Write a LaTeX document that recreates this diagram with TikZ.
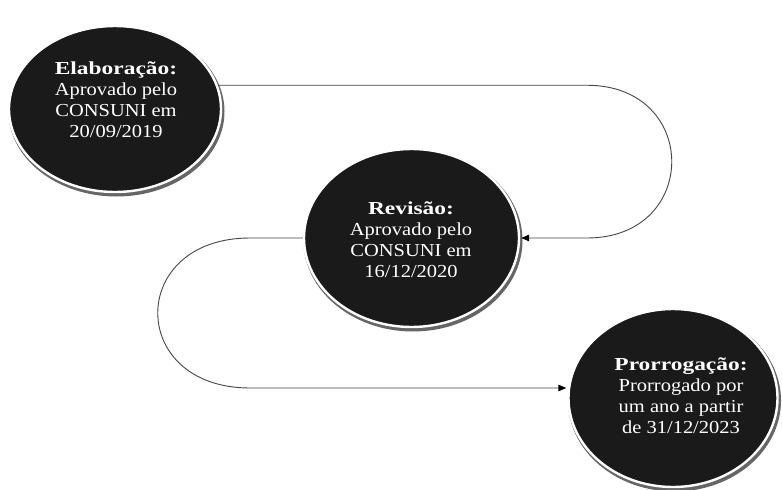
\documentclass[tikz,border=0pt]{standalone}
\usepackage{fontspec}
\usepackage{graphicx}
\setmainfont{Liberation Serif}
\usetikzlibrary{shapes.geometric,arrows.meta}

\definecolor{discfill}{RGB}{26,26,26}
\definecolor{flowgray}{RGB}{70,70,70}

\tikzset{
  disc/.style={ellipse, fill=discfill, draw=white, line width=2.4pt, inner sep=0pt},
  discshadow/.style={ellipse, fill=black!60, inner sep=0pt},
  caption/.style={text=white, align=center, inner sep=0pt, font=\fontsize{18.3}{21}\selectfont},
  flow/.style={draw=flowgray, line width=0.9pt,
    -{Triangle[length=8pt,width=6.5pt,color=black,fill=black]}, shorten >=1pt},
}
% stage titles and descriptions are set slightly wide
\newcommand{\stagehead}[1]{\scalebox{1.28}[1]{\textbf{#1}}}
\newcommand{\stagebody}[1]{\scalebox{1.12}[1]{#1}}

\begin{document}
\begin{tikzpicture}[x=1pt, y=-1pt]
  \useasboundingbox (0,0) rectangle (782,490);
  \fill[white] (0,0) rectangle (782,490);

  % drop shadows behind the stages
  \node[discshadow, minimum width=216pt, minimum height=170pt] (s1) at (116.5,111.5) {};
  \node[discshadow, minimum width=219pt, minimum height=182pt] (s2) at (413,240.5) {};
  \node[discshadow, minimum width=213pt, minimum height=182pt] (s3) at (674.5,400.5) {};

  % stages
  \node[disc, minimum width=212pt, minimum height=166pt] (c1) at (115,109) {};
  \node[disc, minimum width=215pt, minimum height=178pt] (c2) at (411.5,238) {};
  \node[disc, minimum width=209pt, minimum height=178pt] (c3) at (673,398) {};

  % stage texts
  \node[caption] (t1) at (116,100) {\stagehead{Elaboração:}\\ \stagebody{Aprovado pelo}\\ \stagebody{CONSUNI em}\\ \stagebody{20/09/2019}};
  \node[caption] (t2) at (411,240) {\stagehead{Revisão:}\\ \stagebody{Aprovado pelo}\\ \stagebody{CONSUNI em}\\ \stagebody{16/12/2020}};
  \node[caption] (t3) at (681,396) {\stagehead{Prorrogação:}\\ \stagebody{Prorrogado por}\\ \stagebody{um ano a partir}\\ \stagebody{de 31/12/2023}};

  % turning points of the connectors
  \coordinate (r1) at (587,85);
  \coordinate (l1) at (250,388);

  % Elaboração -> Revisão
  \draw[flow] (c1.13) -- (c1.13 -| r1)
    .. controls +(113,0) and +(113,0) .. (c2.east -| r1) -- (c2.east);

  % Revisão -> Prorrogação
  \draw[flow] (c2.west) -- (c2.west -| l1)
    .. controls +(-123,0) and +(-123,0) .. (l1) -- (l1 -| c3.west);
\end{tikzpicture}
\end{document}
